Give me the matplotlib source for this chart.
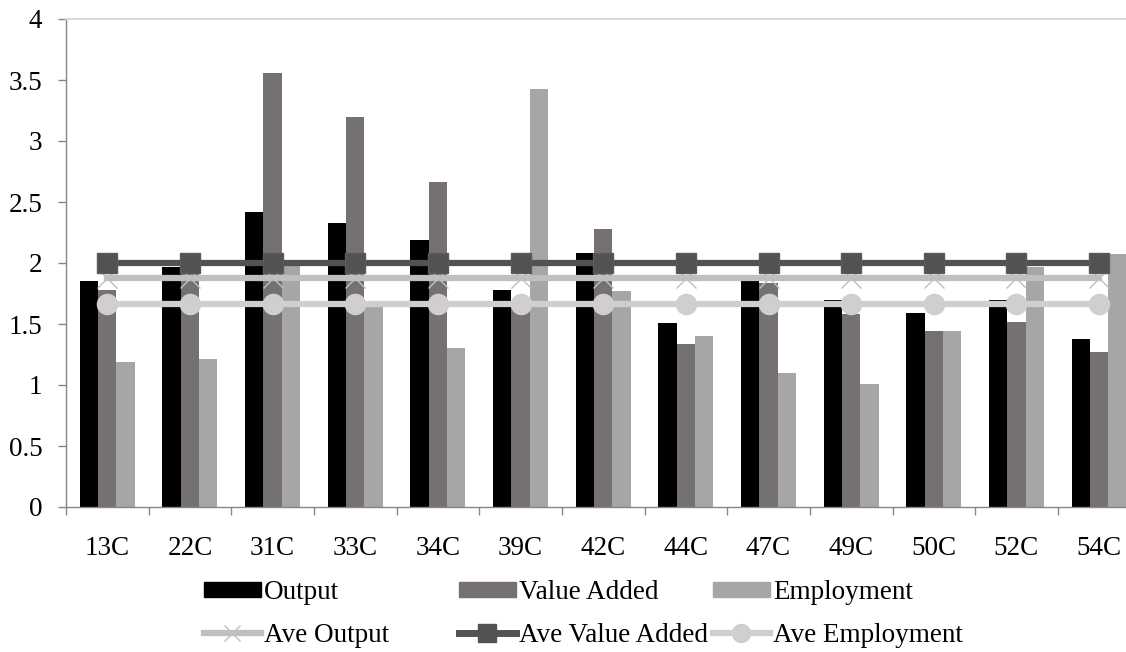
import matplotlib.pyplot as plt
import numpy as np
from matplotlib.lines import Line2D
from matplotlib.patches import Patch

plt.rcParams['font.family'] = ['Liberation Serif', 'DejaVu Serif']

# industry codes and multipliers
industries = ['13C', '22C', '31C', '33C', '34C', '39C', '42C',
              '44C', '47C', '49C', '50C', '52C', '54C']
output = [1.85, 1.97, 2.42, 2.33, 2.19, 1.78, 2.08, 1.51, 1.85, 1.70, 1.59, 1.70, 1.38]
value_added = [1.78, 1.92, 3.56, 3.20, 2.66, 1.68, 2.28, 1.34, 1.84, 1.58, 1.44, 1.52, 1.27]
employment = [1.19, 1.21, 1.98, 1.64, 1.30, 3.43, 1.77, 1.40, 1.10, 1.01, 1.44, 1.97, 2.07]
ave_output = 1.88
ave_value_added = 2.00
ave_employment = 1.66

W, H = 1126, 652
fs = 19.5
fig = plt.figure(figsize=(W / 100, H / 100), dpi=100)
# plot area runs a little past the right edge, like the original export
ax = fig.add_axes([66 / W, 1 - 507 / H, (13 * 82.65) / W, (507 - 19) / H])

x = np.arange(len(industries))
bw = 0.222
c_out, c_va, c_emp = '#000000', '#767171', '#a6a6a6'
ax.bar(x - bw, output, bw, color=c_out, zorder=2)
ax.bar(x, value_added, bw, color=c_va, zorder=2)
ax.bar(x + bw, employment, bw, color=c_emp, zorder=2)

n = len(industries)
ax.plot(x, [ave_output] * n, color='#bfbfbf', lw=4.5, marker='x', ms=14,
        mew=1.0, mec='#bfbfbf', zorder=3)
ax.plot(x, [ave_value_added] * n, color='#525252', lw=4.5, marker='s', ms=14,
        mec='#5a5a5a', zorder=4)
ax.plot(x, [ave_employment] * n, color='#d0cece', lw=4.5, marker='o', ms=14.5,
        mec='#d0cece', zorder=5)

ax.set_xlim(-0.5, n - 0.5)
ax.set_ylim(0, 4)
ax.set_yticks(np.arange(0, 4.01, 0.5))
ax.set_yticklabels(['0', '0.5', '1', '1.5', '2', '2.5', '3', '3.5', '4'])
ax.set_xticks(x)
ax.set_xticklabels(industries)
ax.set_xticks(np.arange(-0.5, n, 1), minor=True)

ax.tick_params(axis='x', which='major', length=0, pad=21, labelsize=fs)
ax.tick_params(axis='x', which='minor', length=6, width=1, color='#868686', direction='out')
ax.tick_params(axis='y', length=6, width=1, color='#868686', pad=11, labelsize=fs)

for s in ['left', 'bottom']:
    ax.spines[s].set_color('#868686')
    ax.spines[s].set_linewidth(1)
ax.spines['top'].set_color('#d9d9d9')
ax.spines['top'].set_linewidth(1.5)
ax.spines['right'].set_visible(False)

# legend laid out as three separate columns
cols = [
    (204, [Patch(color=c_out), Line2D([], [], color='#bfbfbf', lw=4.5, marker='x', ms=12, mew=1.0)],
     ['Output', 'Ave Output']),
    (459, [Patch(color=c_va), Line2D([], [], color='#525252', lw=5, marker='s', ms=13)],
     ['Value Added', 'Ave Value Added']),
    (713, [Patch(color=c_emp), Line2D([], [], color='#d0cece', lw=4.5, marker='o', ms=13)],
     ['Employment', 'Ave Employment']),
]
for xl, handles, labels in cols:
    fig.legend(handles, labels, loc='center left', bbox_to_anchor=(xl / W, 1 - 614 / H),
               frameon=False, fontsize=fs, handlelength=2.1, handleheight=0.45,
               handletextpad=0.12, borderpad=0, borderaxespad=0, labelspacing=0.65)

fig.savefig('out.png', dpi=100)
